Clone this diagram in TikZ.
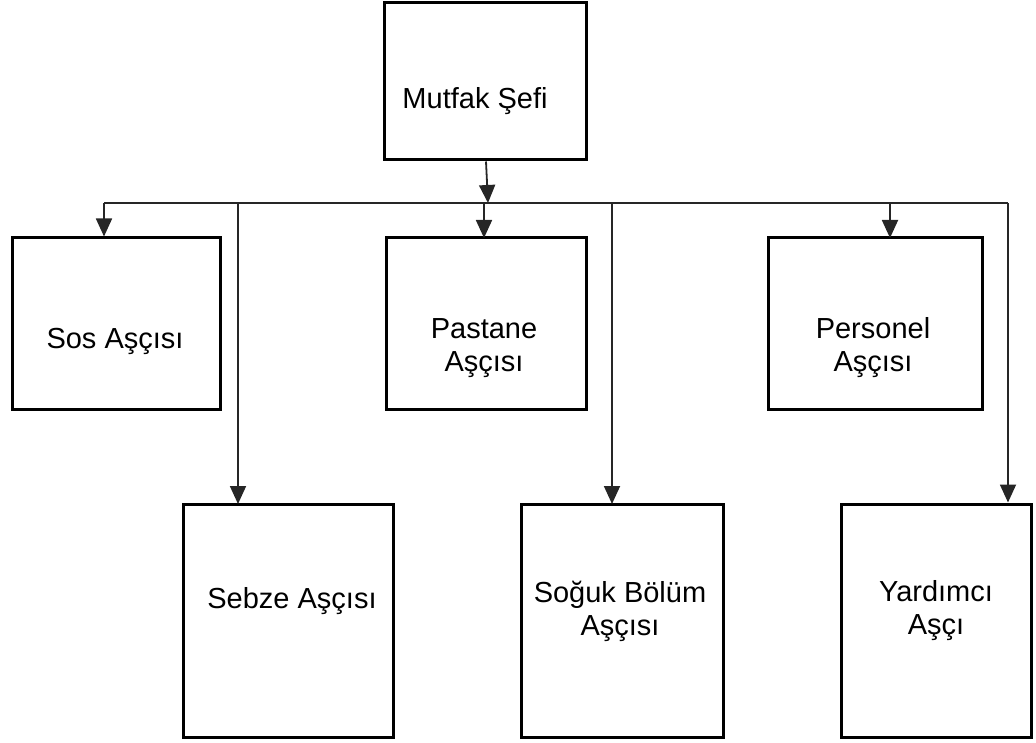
\documentclass[tikz,border=0pt]{standalone}
\usepackage{fontspec}
\setmainfont{Liberation Sans}
\usetikzlibrary{arrows.meta}

\begin{document}
\begin{tikzpicture}[x=1pt, y=-1pt,
  box/.style={draw=black, line width=3pt, inner sep=0pt},
  lbl/.style={font=\fontsize{29}{33}\selectfont, align=center, inner sep=0pt, anchor=center},
  wire/.style={draw=black!85, line width=1.8pt},
  arr/.style={wire, -{Triangle[length=18pt, width=16pt]}}]

  \path[use as bounding box] (0,0) rectangle (1036,743);

  % boxes: head chef, upper row, lower row
  \node[box, minimum width=202pt, minimum height=157pt] (sef) at (485,81.5) {};
  \node[box, minimum width=208pt, minimum height=171pt] (sos) at (116,323.5) {};
  \node[box, minimum width=200pt, minimum height=171pt] (pastane) at (486,323.5) {};
  \node[box, minimum width=214pt, minimum height=171pt] (personel) at (875,323.5) {};
  \node[box, minimum width=210pt, minimum height=233pt] (sebze) at (288,620.5) {};
  \node[box, minimum width=202pt, minimum height=233pt] (soguk) at (622,620.5) {};
  \node[box, minimum width=190pt, minimum height=233pt] (yardimci) at (936,620.5) {};

  % labels
  \node[lbl] (sef-t) at (475,101) {Mutfak Şefi};
  \node[lbl] (sos-t) at (115,341) {Sos Aşçısı};
  \node[lbl] (pastane-t) at (484,348) {Pastane\\Aşçısı};
  \node[lbl] (personel-t) at (873,348) {Personel\\Aşçısı};
  \node[lbl] (sebze-t) at (292,601) {Sebze Aşçısı};
  \node[lbl] (soguk-t) at (620,611) {Soğuk Bölüm\\Aşçısı};
  \node[lbl] (yardimci-t) at (936,611) {Yardımcı\\Aşçı};

  % distribution bar
  \coordinate (barL) at (104,203);
  \coordinate (barR) at (1008,203);
  \coordinate (barM) at (488,203);
  \draw[wire] (barL) -- (barR);

  % head chef down to the bar
  \draw[arr] ([xshift=1pt]sef.south) -- (barM);

  % branches to the upper row
  \draw[arr] (barL) -- (barL |- sos.north);
  \draw[arr] (484,203) -- (484,238);
  \draw[arr] (890,203) -- (890,238);

  % branches to the lower row
  \draw[arr] (238,203) -- (238,504);
  \draw[arr] (612,203) -- (612,504);
  \draw[arr] (barR) -- (barR |- yardimci.north);
\end{tikzpicture}
\end{document}
